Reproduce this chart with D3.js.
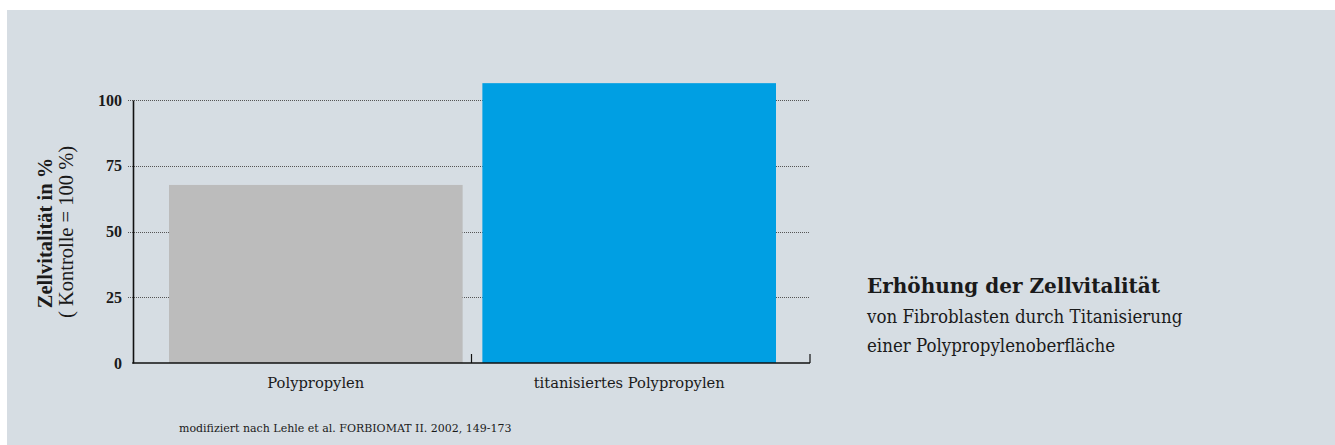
<!DOCTYPE html>
<html>
<head>
<meta charset="utf-8">
<script src="https://cdn.jsdelivr.net/npm/d3@7"></script>
<style>
  body { margin: 0; background: #fff; }
  svg { display: block; }
  text { font-family: "DejaVu Serif", "Liberation Serif", serif; fill: #1a1a1a; }
</style>
</head>
<body>
<script>
// data
var categories = ["Polypropylen", "titanisiertes Polypropylen"];
var values = [67.7, 106.4];
var barColors = ["#bcbcbc", "#009fe3"];
var yTicks = [0, 25, 50, 75, 100];
var yTitle = "Zellvitalität in %";
var ySubtitle = "( Kontrolle = 100 %)";
var noteLines = ["Erhöhung der Zellvitalität", "von Fibroblasten durch Titanisierung", "einer Polypropylenoberfläche"];
var source = "modifiziert nach Lehle et al. FORBIOMAT II. 2002, 149-173";

var W = 1335, H = 445;
var frame = { left: 133, right: 810, top: 100, bottom: 363 };

var svg = d3.select("body").append("svg")
    .attr("width", W)
    .attr("height", H);

// panel background
svg.append("rect")
    .attr("x", 7).attr("y", 10)
    .attr("width", W - 7).attr("height", H - 10)
    .attr("fill", "#d6dde3");

var y = d3.scaleLinear()
    .domain([0, 100])
    .range([frame.bottom, frame.top]);

// frame band scale (axis ticks at band edges) and bar band scale
var xFrame = d3.scaleBand()
    .domain(categories)
    .range([frame.left, frame.right]);

var x = d3.scaleBand()
    .domain(categories)
    .range([169, 776])
    .paddingInner(0.063);

// dotted gridlines
svg.append("g")
    .selectAll("line")
    .data(yTicks.filter(function(d) { return d > 0; }))
    .enter().append("line")
    .attr("x1", frame.left - 5)
    .attr("x2", frame.right)
    .attr("y1", function(d) { return Math.round(y(d)) + 0.5; })
    .attr("y2", function(d) { return Math.round(y(d)) + 0.5; })
    .attr("stroke", "#555")
    .attr("stroke-width", 1)
    .attr("stroke-dasharray", "1,1");

// bars
svg.append("g")
    .selectAll("rect")
    .data(values)
    .enter().append("rect")
    .attr("x", function(d, i) { return x(categories[i]); })
    .attr("width", x.bandwidth())
    .attr("y", function(d) { return y(d); })
    .attr("height", function(d) { return y(0) - y(d); })
    .attr("fill", function(d, i) { return barColors[i]; });

// y axis
var yAxis = d3.axisLeft(y)
    .tickValues(yTicks)
    .tickSize(0)
    .tickPadding(11);

var gy = svg.append("g")
    .attr("transform", "translate(" + frame.left + ",0)")
    .call(yAxis);
gy.select(".domain")
    .attr("stroke", "#111")
    .attr("stroke-width", 1.6);
gy.selectAll("text")
    .style("font-family", "'Liberation Serif', serif")
    .style("font-size", "16px")
    .style("font-weight", "bold")
    .attr("fill", "#1a1a1a");

// x axis: baseline plus small upward ticks at band edges
var edges = categories.map(function(c) { return xFrame(c); }).concat([frame.right]);
var gx = svg.append("g");
gx.append("line")
    .attr("x1", frame.left - 0.8).attr("x2", frame.right)
    .attr("y1", frame.bottom).attr("y2", frame.bottom)
    .attr("stroke", "#111").attr("stroke-width", 1.6);
gx.selectAll(".edge")
    .data(edges.slice(1))
    .enter().append("line")
    .attr("class", "edge")
    .attr("x1", function(d) { return d; })
    .attr("x2", function(d) { return d; })
    .attr("y1", frame.bottom - 9)
    .attr("y2", frame.bottom)
    .attr("stroke", "#111").attr("stroke-width", 1.2);

gx.selectAll(".cat")
    .data(categories)
    .enter().append("text")
    .attr("class", "cat")
    .attr("x", function(d) { return x(d) + x.bandwidth() / 2; })
    .attr("y", 388)
    .attr("text-anchor", "middle")
    .style("font-size", "14.7px")
    .text(function(d) { return d; });

// y axis titles
svg.append("text")
    .attr("transform", "translate(52,233) rotate(-90)")
    .attr("text-anchor", "middle")
    .style("font-family", "'Liberation Serif', serif")
    .style("font-size", "20.5px")
    .style("font-weight", "bold")
    .text(yTitle);
svg.append("text")
    .attr("transform", "translate(73,232) rotate(-90)")
    .attr("text-anchor", "middle")
    .style("font-family", "'Liberation Serif', serif")
    .style("font-size", "20.5px")
    .text(ySubtitle);

// note on the right
svg.append("g")
    .selectAll("text")
    .data(noteLines)
    .enter().append("text")
    .attr("x", 867)
    .attr("y", function(d, i) { return 293 + i * 29.5; })
    .style("font-family", function(d, i) {
        return i === 0 ? "'DejaVu Serif', serif" : "'DejaVu Serif Condensed', 'DejaVu Serif', serif";
    })
    .style("font-stretch", function(d, i) { return i === 0 ? "normal" : "condensed"; })
    .style("font-size", function(d, i) { return i === 0 ? "20px" : "18.5px"; })
    .style("font-weight", function(d, i) { return i === 0 ? "bold" : "normal"; })
    .text(function(d) { return d; });

// source line
svg.append("text")
    .attr("x", 179)
    .attr("y", 432)
    .style("font-size", "11px")
    .text(source);
</script>
</body>
</html>
